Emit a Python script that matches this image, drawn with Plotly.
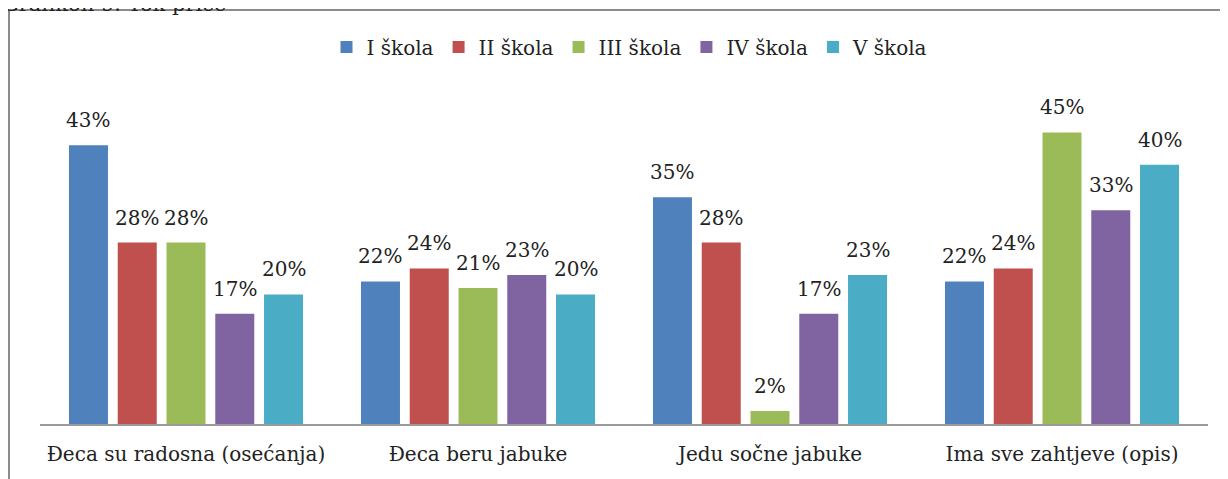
import plotly.graph_objects as go

categories = ["Đeca su radosna (osećanja)", "Đeca beru jabuke", "Jedu sočne jabuke", "Ima sve zahtjeve (opis)"]
series_names = ["I škola", "II škola", "III škola", "IV škola", "V škola"]
values_I = [43, 22, 35, 22]
values_II = [28, 24, 28, 24]
values_III = [28, 21, 2, 45]
values_IV = [17, 23, 17, 33]
values_V = [20, 20, 23, 40]
colors = ["#4F81BD", "#C0504D", "#9BBB59", "#8064A2", "#4BACC6"]

all_values = [values_I, values_II, values_III, values_IV, values_V]

W, H = 1228, 479
OFF = 8  # page body margin offset
ml, mr, mt, mb = 40 - OFF, 20 + OFF, 100 - OFF, 55 + OFF
plot_w = W - ml - mr
plot_h = H - mt - mb
bargap = 0.165
bargroupgap = 0.2
n = len(series_names)
slot = plot_w / len(categories) * (1 - bargap) / n

font_family = "DejaVu Serif"

fig = go.Figure()
for name, vals, col in zip(series_names, all_values, colors):
    fig.add_trace(go.Bar(x=categories, y=vals, name=name, marker=dict(color=col, line=dict(width=0))))

annotations = []
for i, vals in enumerate(all_values):
    for c, v in zip(categories, vals):
        annotations.append(dict(
            x=c, y=v, xref="x", yref="y", text=f"{v}%", showarrow=False,
            xshift=(i - (n - 1) / 2) * slot, yanchor="bottom", yshift=11,
            font=dict(family=font_family, size=20, color="#222"),
        ))

def px_to_paper_x(px):
    return (px - OFF - ml) / plot_w

def px_to_paper_y(py):
    return (H - mb - (py - OFF)) / plot_h

# chart title (cut off at the top of the image)
annotations.append(dict(
    text="Grafikon 9. Tok priče", xref="paper", yref="paper",
    x=px_to_paper_x(0), y=px_to_paper_y(18), xanchor="left", yanchor="bottom",
    showarrow=False,
    font=dict(family=font_family, size=21, color="#222"),
))

fig.update_layout(
    width=W, height=H,
    margin=dict(l=ml, r=mr, t=mt, b=mb),
    paper_bgcolor="white", plot_bgcolor="white",
    barmode="group", bargap=bargap, bargroupgap=bargroupgap,
    font=dict(family=font_family, size=20, color="#222"),
    showlegend=True,
    legend=dict(
        orientation="h", x=px_to_paper_x(630), xanchor="center",
        y=px_to_paper_y(47), yanchor="middle",
        font=dict(family=font_family, size=20, color="#222"),
        itemwidth=30, traceorder="normal",
    ),
    xaxis=dict(
        showline=True, linecolor="#9a9a9a", linewidth=2,
        ticks="outside", ticklen=11, tickcolor="rgba(0,0,0,0)",
        tickfont=dict(family=font_family, size=20, color="#222"),
        showgrid=False, zeroline=False,
    ),
    yaxis=dict(range=[0, 50], visible=False, showgrid=False, zeroline=False),
    annotations=annotations,
    shapes=[dict(
        type="rect", xref="paper", yref="paper",
        x0=px_to_paper_x(9), x1=px_to_paper_x(W + 20),
        y0=px_to_paper_y(H + 20), y1=px_to_paper_y(10),
        line=dict(color="#8c8c8c", width=2), fillcolor="rgba(0,0,0,0)", layer="below",
    )],
)

fig.write_html("out.html")
